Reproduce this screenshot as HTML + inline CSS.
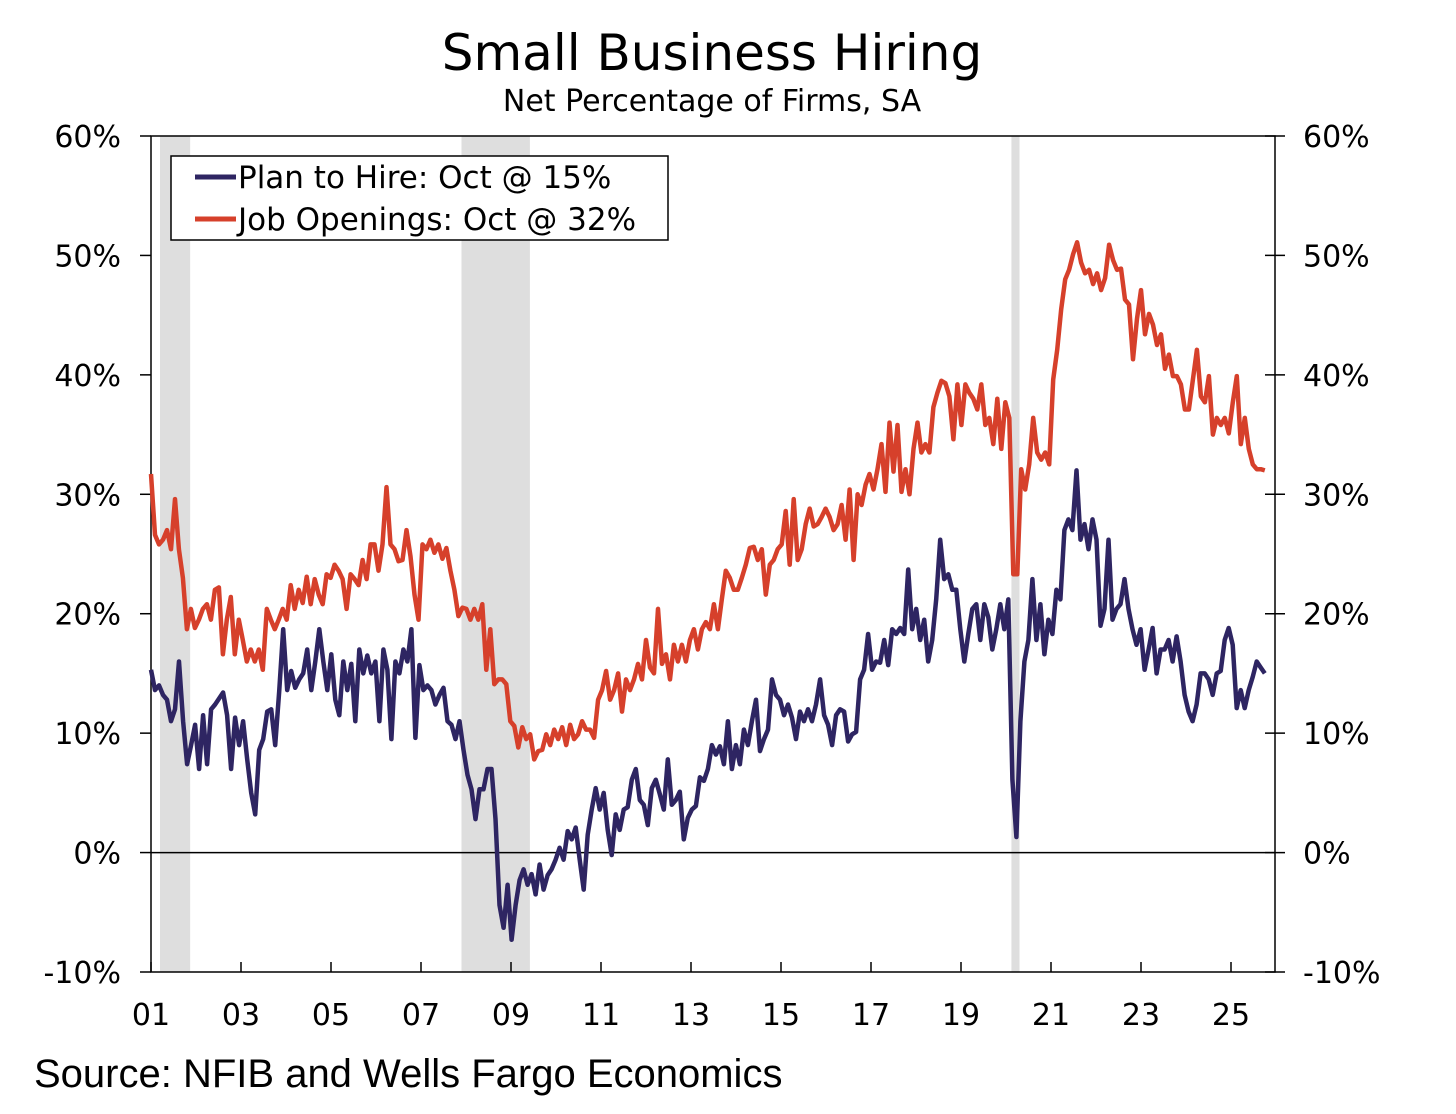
<!DOCTYPE html>
<html><head><meta charset="utf-8"><style>
body{margin:0;background:#fff;}
svg text{font-family:"DejaVu Sans","Liberation Sans",sans-serif;fill:#000;}
</style></head><body>
<svg id="chart" width="1456" height="1109" viewBox="0 0 1456 1109">
<text x="712" y="70" text-anchor="middle" font-size="50">Small Business Hiring</text>
<text x="712" y="111" text-anchor="middle" font-size="30">Net Percentage of Firms, SA</text>
<text x="34" y="1087" font-size="40" style="font-family:'Liberation Sans',sans-serif">Source: NFIB and Wells Fargo Economics</text>
<g id="bands"></g>
<g id="axes"></g>
<g id="series"></g>
<g>
<rect x="171" y="156" width="497" height="84" fill="#fff" stroke="#000" stroke-width="1.5"/>
<line x1="195" y1="177" x2="236" y2="177" stroke="#2e2562" stroke-width="5"/>
<text x="238" y="188" font-size="31">Plan to Hire: Oct @ 15%</text>
<line x1="195" y1="219" x2="236" y2="219" stroke="#d6402b" stroke-width="5"/>
<text x="238" y="230" font-size="31">Job Openings: Oct @ 32%</text>
</g>
</svg>
<script>
const yTicks=[-10,0,10,20,30,40,50,60];
const xTickYears=[2001,2003,2005,2007,2009,2011,2013,2015,2017,2019,2021,2023,2025];
const xTickLabels=["01","03","05","07","09","11","13","15","17","19","21","23","25"];
const recessions=[[2001.2,2001.87],[2007.9,2009.42],[2020.12,2020.3]];
const startYear=2001.0, endYear=2025.75;
const planToHire=[15.3,13.6,14,13.2,12.8,11,12,16,11,7.4,9,10.7,7,11.5,7.4,12,12.4,12.9,13.4,11.5,7,11.3,9,11,7.8,5,3.2,8.6,9.5,11.8,12,9,13.5,
18.7,13.6,15.2,13.8,14.5,15,17,13.6,16,18.7,16,13.6,16.6,12.8,11.5,16,13.6,15.8,11,17,15,16.5,15,16,11,17,15.3,9.5,16,15,17,16,18.7,9.6,15.7,13.6,14,13.6,12.4,13.2,13.8,11,10.7,9.5,11,8.6,6.5,5.3,2.8,5.3,5.3,7,7,2.8,-4.4,-6.3,-2.7,-7.3,-4.4,-2.3,-1.4,-2.7,-1.8,-3.5,-1,-3.1,-1.9,-1.4,-0.6,0.4,-0.6,1.8,1.1,2.1,-0.6,-3.1,1.5,3.6,5.4,3.6,5,1.9,-0.2,3.2,1.9,3.6,3.8,6.1,7,4.4,4,2.3,5.4,6.1,4.9,3.6,7.8,4,4.4,5.1,1.1,2.9,3.6,3.9,6.3,6,7,9,8.2,8.9,7.4,11,7,9,7.4,10.3,9,11,12.8,8.5,9.5,10.3,14.5,13.2,12.8,11.5,12.4,11.3,9.5,11.8,11,12,11,12.4,14.5,11.5,10.7,9,11.5,12,11.8,9.3,9.9,10.1,14.5,15.3,18.3,15.3,16,15.9,17.8,15.7,18.7,18.3,18.8,18.3,23.7,18.7,20.4,17.8,19.5,16,17.8,21.2,26.2,22.9,23.3,22,22,18.7,16,18.3,20.4,20.8,17.8,20.8,19.7,17,18.7,20.8,18.7,21.2,6.1,1.3,11,16,17.8,22.9,17.8,20.8,16.6,19.5,18.3,22,21.2,27,27.9,27,32,26.2,27.5,25.4,27.9,26.2,19,20.4,26.2,19.5,20.4,20.8,22.9,20.4,18.7,17.4,18.7,15.3,17,18.8,15,17,17,17.8,16,18.1,16,13.2,11.8,11,12.4,15,15,14.5,13.2,15,15.2,17.8,18.8,17.4,12.1,13.6,12.1,13.6,14.7,16,15.5,15];
const jobOpenings=[31.7,26.6,25.8,26.2,27,25.4,29.6,25.4,23,18.7,20.4,18.8,19.5,20.4,20.8,19.5,22,22.2,16.6,19.5,21.4,16.6,19.5,17.8,16,17,16,17,15.3,20.4,19.5,18.7,19.5,20.4,19.5,22.4,20.4,22,20.9,23.1,20.8,22.9,21.6,20.8,23.3,23,24.1,23.6,22.9,20.4,23.3,22.9,22.4,24.5,22.9,25.8,25.8,23.6,25.8,30.6,25.8,25.4,24.4,24.5,27,24.8,21.6,19.5,25.8,25.4,26.2,25.1,25.8,24.6,25.5,23.6,22,19.8,20.5,20.4,19.5,20.4,19.5,20.8,15.3,18.7,14.1,14.5,14.5,14.1,11,10.6,8.8,10.5,9.5,9.9,7.8,8.5,8.6,9.9,9,10.3,9.5,10.5,9,10.7,9.5,9.9,11,10.3,10.3,9.6,12.8,13.6,15.2,12.8,13.6,15,11.8,14.5,13.6,14.5,15.8,14.5,17.8,15.5,15,20.4,15.8,16.6,14.5,17.4,16,17.4,16,17.8,18.7,17,18.7,19.3,18.7,20.8,18.7,21.2,23.6,23,22,22,23,24.1,25.5,25.6,24.5,25.4,21.6,24.1,24.5,25.4,25.8,28.6,24.1,29.6,24.5,25.4,27.5,28.8,27.3,27.5,28.1,28.8,28.1,27,27.5,29.1,26.2,30.4,24.5,30,29.1,30.8,31.7,30.4,32.1,34.2,30.2,36,31.9,35.8,30.2,32.1,30,33.8,36,33.5,34.2,33.5,37.3,38.5,39.5,39.3,38.2,34.6,39.2,35.8,39.2,38.5,38,37.1,39.2,35.8,36.4,34.2,38,33.8,37.7,36.4,23.3,23.3,32.1,30.4,32.5,36.4,33.5,32.9,33.5,32.5,39.6,42.1,45.5,48,48.8,50.1,51.1,49.4,48.5,48.8,47.6,48.5,47.1,48.1,50.9,49.6,48.8,48.9,46.3,45.9,41.3,44.7,47.1,43.4,45.1,44.2,42.5,43.4,40.5,41.7,39.9,39.9,39.2,37.1,37.1,39.6,42.1,38.2,37.7,39.9,35,36.4,35.8,36.4,35.1,37.7,39.9,34.2,36.4,33.8,32.5,32.1,32.1,32];

const NS="http://www.w3.org/2000/svg";
const L=151,R=1275,T=136,B=972;
function xs(yr){return L+(yr-2001)*45;}
function ys(v){return B-(v+10)*(B-T)/70;}
function mk(tag,attrs,parent){const e=document.createElementNS(NS,tag);for(const k in attrs)e.setAttribute(k,attrs[k]);parent.appendChild(e);return e;}
const bands=document.getElementById('bands'),axes=document.getElementById('axes'),series=document.getElementById('series');
recessions.forEach(r=>{
  const e=mk('rect',{x:xs(r[0]),y:T,width:xs(r[1])-xs(r[0]),height:B-T,fill:'#dedede'},bands);
  
  
});
let e=mk('rect',{x:L,y:T,width:R-L,height:B-T,fill:'none',stroke:'#000','stroke-width':1.5},axes);


e=mk('line',{x1:L,x2:R,y1:ys(0),y2:ys(0),stroke:'#000','stroke-width':1.5},axes);


yTicks.forEach(v=>{
  const y=ys(v);
  mk('line',{x1:L-11,x2:L,y1:y,y2:y,stroke:'#000','stroke-width':1.5},axes);
  mk('line',{x1:R-10,x2:R+10,y1:y,y2:y,stroke:'#000','stroke-width':1.5},axes);
  let t=mk('text',{x:121,y:y+11,'text-anchor':'end','font-size':30},axes);t.textContent=v+'%';
  
  
  t=mk('text',{x:1303,y:y+11,'font-size':30},axes);t.textContent=v+'%';
  
  
});
xTickYears.forEach((yr,i)=>{
  const x=xs(yr);
  mk('line',{x1:x,x2:x,y1:B-10,y2:B,stroke:'#000','stroke-width':1.5},axes);
  const t=mk('text',{x:x,y:B+53,'text-anchor':'middle','font-size':30},axes);t.textContent=xTickLabels[i];
  
  
});
function draw(arr,color,name){
  const n=arr.length,step=(endYear-startYear)/(n-1);
  const d=arr.map((v,i)=>(i?'L':'M')+xs(startYear+i*step).toFixed(1)+' '+ys(v).toFixed(1)).join(' ');
  const p=mk('path',{d:d,fill:'none',stroke:color,'stroke-width':4.5,'stroke-linejoin':'round'},series);
  
  
}
draw(jobOpenings,'#d6402b','job-openings-line');
draw(planToHire,'#2e2562','plan-to-hire-line');
</script>
</body></html>
